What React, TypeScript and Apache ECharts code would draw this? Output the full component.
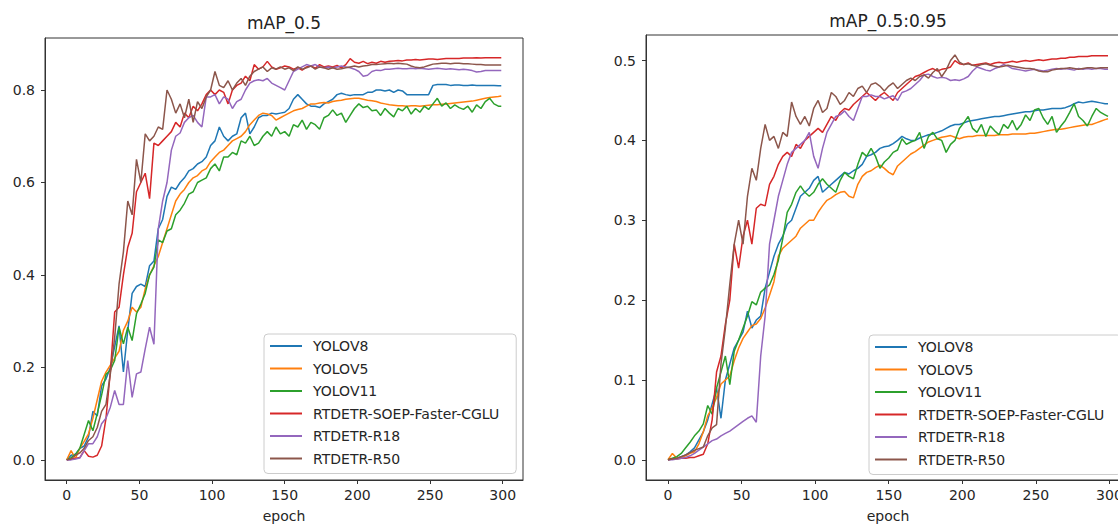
import React, { useEffect, useRef } from "react";
import * as echarts from "echarts";

const FONT = "'DejaVu Sans', sans-serif";

const SERIES_NAMES = ["YOLOV8", "YOLOV5", "YOLOV11", "RTDETR-SOEP-Faster-CGLU", "RTDETR-R18", "RTDETR-R50"];
const COLORS = ["#1f77b4", "#ff7f0e", "#2ca02c", "#d62728", "#9467bd", "#8c564b"];

const TITLES = ["mAP_0.5", "mAP_0.5:0.95"];
const X_NAME = "epoch";
const X_TICKS = [0, 50, 100, 150, 200, 250, 300];
const Y_TICKS_A = [0, 0.2, 0.4, 0.6, 0.8];
const Y_TICKS_B = [0, 0.1, 0.2, 0.3, 0.4, 0.5];

const EPOCHS = [
  0, 3, 6, 9, 12, 15, 18, 21, 24, 27,
  30, 33, 36, 39, 42, 45, 48, 51, 54, 57,
  60, 63, 66, 69, 72, 75, 78, 81, 84, 87,
  90, 93, 96, 99, 102, 105, 108, 111, 114, 117,
  120, 123, 126, 129, 132, 135, 138, 141, 144, 147,
  150, 153, 156, 159, 162, 165, 168, 171, 174, 177,
  180, 183, 186, 189, 192, 195, 198, 201, 204, 207,
  210, 213, 216, 219, 222, 225, 228, 231, 234, 237,
  240, 243, 246, 249, 252, 255, 258, 261, 264, 267,
  270, 273, 276, 279, 282, 285, 288, 291, 294, 297,
  299,
];

// ---- mAP_0.5 ----
const A_YOLOV8 = [
  0, .01, .012, .025, .03, .05, .105, .095, .16, .175,
  .2, .245, .29, .19, .28, .36, .375, .38, .375, .42,
  .43, .5, .52, .57, .59, .585, .6, .61, .625, .63,
  .64, .645, .655, .68, .69, .72, .7, .69, .7, .705,
  .74, .75, .705, .72, .74, .745, .745, .75, .748, .75,
  .752, .76, .78, .79, .78, .77, .765, .765, .762, .77,
  .775, .78, .79, .793, .79, .788, .79, .79, .79, .795,
  .795, .8, .8, .798, .8, .795, .8, .798, .79, .79,
  .79, .79, .79, .79, .81, .812, .812, .812, .81, .811,
  .811, .81, .81, .811, .81, .81, .81, .81, .81, .809,
  .809,
];
const A_YOLOV5 = [
  0, .02, .003, .025, .04, .056, .09, .13, .17, .19,
  .205, .22, .235, .28, .3, .33, .32, .33, .37, .4,
  .42, .44, .47, .5, .53, .56, .575, .585, .6, .61,
  .615, .625, .63, .645, .655, .665, .67, .68, .69, .695,
  .7, .71, .725, .735, .745, .75, .748, .745, .735, .74,
  .745, .75, .755, .758, .76, .765, .77, .77, .772, .773,
  .772, .775, .777, .778, .78, .781, .782, .782, .78, .778,
  .777, .775, .772, .77, .768, .767, .766, .766, .765, .766,
  .766, .765, .766, .767, .768, .768, .769, .77, .771, .772,
  .773, .774, .775, .776, .778, .78, .782, .784, .785, .786,
  .787,
];
const A_YOLOV11 = [
  0, .005, .012, .025, .055, .085, .063, .1, .14, .185,
  .194, .215, .287, .251, .287, .258, .316, .337, .36, .4,
  .417, .476, .47, .495, .5, .53, .54, .555, .575, .58,
  .6, .605, .61, .63, .64, .625, .655, .655, .665, .66,
  .69, .685, .7, .68, .685, .7, .71, .7, .72, .705,
  .71, .7, .725, .72, .735, .715, .73, .725, .715, .74,
  .745, .757, .745, .75, .73, .745, .76, .77, .762, .765,
  .755, .757, .745, .76, .75, .742, .76, .755, .765, .748,
  .76, .752, .765, .758, .77, .782, .765, .772, .76, .768,
  .762, .758, .765, .752, .768, .76, .775, .782, .77, .765,
  .765,
];
const A_SOEP = [
  0, .002, .003, .005, .02, .008, .006, .01, .03, .09,
  .19, .32, .33, .4, .46, .49, .58, .6, .62, .565,
  .685, .68, .69, .7, .71, .73, .72, .75, .74, .765,
  .755, .77, .79, .8, .79, .8, .795, .77, .8, .81,
  .815, .83, .82, .855, .845, .85, .862, .85, .845, .848,
  .852, .85, .845, .848, .843, .85, .852, .847, .855, .85,
  .852, .85, .853, .848, .855, .868, .86, .858, .862, .857,
  .86, .858, .862, .86, .862, .863, .864, .863, .865, .865,
  .866, .865, .866, .867, .867, .866, .867, .868, .868, .868,
  .868, .869, .869, .869, .87, .869, .87, .87, .87, .87,
  .87,
];
const A_R18 = [
  0, 0, .002, .004, .02, .035, .035, .05, .078, .09,
  .114, .15, .12, .12, .215, .135, .186, .19, .24, .287,
  .25, .5, .56, .6, .67, .7, .707, .73, .74, .745,
  .73, .72, .785, .785, .79, .77, .785, .78, .76, .775,
  .78, .8, .815, .82, .822, .82, .825, .815, .81, .805,
  .8, .82, .84, .845, .85, .855, .852, .855, .85, .848,
  .85, .848, .85, .852, .85, .848, .845, .84, .83, .832,
  .84, .843, .842, .845, .845, .846, .847, .846, .846, .847,
  .846, .847, .846, .845, .846, .847, .846, .845, .846, .845,
  .844, .845, .844, .842, .839, .84, .842, .842, .842, .842,
  .842,
];
const A_R50 = [
  0, .002, .01, .015, .025, .042, .05, .07, .105, .12,
  .186, .265, .38, .45, .56, .53, .65, .6, .705, .69,
  .7, .72, .715, .8, .78, .75, .77, .74, .78, .73,
  .775, .76, .785, .8, .84, .81, .805, .82, .8, .815,
  .825, .81, .83, .84, .845, .85, .84, .848, .845, .85,
  .845, .848, .842, .85, .845, .848, .852, .845, .85, .848,
  .845, .848, .845, .846, .848, .85, .852, .85, .852, .853,
  .855, .855, .856, .857, .858, .857, .858, .857, .856, .852,
  .849, .848, .85, .853, .856, .857, .858, .858, .857, .858,
  .858, .857, .857, .856, .855, .855, .854, .854, .854, .854,
  .854,
];

// ---- mAP_0.5:0.95 ----
const B_YOLOV8 = [
  0, .001, .002, .004, .006, .01, .015, .025, .035, .05,
  .07, .09, .052, .1, .12, .14, .15, .16, .186, .165,
  .175, .18, .215, .235, .255, .27, .28, .295, .3, .315,
  .33, .335, .34, .35, .355, .335, .34, .345, .35, .355,
  .36, .358, .362, .365, .37, .38, .382, .385, .39, .392,
  .393, .396, .4, .405, .402, .4, .4, .403, .405, .407,
  .408, .41, .412, .415, .418, .42, .42, .422, .424, .425,
  .426, .427, .428, .429, .43, .43, .431, .432, .433, .434,
  .435, .436, .436, .437, .438, .438, .439, .44, .44, .44,
  .441, .443, .446, .448, .447, .448, .449, .448, .447, .446,
  .446,
];
const B_YOLOV5 = [
  0, .008, .002, .003, .005, .008, .01, .02, .035, .055,
  .065, .078, .095, .1, .105, .124, .14, .152, .16, .168,
  .17, .177, .19, .206, .223, .255, .265, .27, .275, .28,
  .29, .295, .3, .3, .31, .318, .325, .328, .332, .335,
  .336, .33, .328, .345, .355, .36, .362, .366, .369, .365,
  .36, .357, .368, .373, .378, .383, .386, .39, .394, .398,
  .4, .402, .404, .405, .406, .404, .402, .404, .405, .405,
  .406, .406, .406, .406, .406, .407, .407, .407, .408, .408,
  .408, .408, .409, .409, .41, .411, .412, .413, .414, .414,
  .415, .416, .417, .418, .419, .42, .42, .422, .424, .426,
  .427,
];
const B_YOLOV11 = [
  0, .002, .004, .008, .015, .022, .03, .036, .045, .068,
  .057, .09, .11, .13, .094, .136, .15, .165, .18, .198,
  .194, .21, .215, .219, .232, .25, .277, .31, .32, .335,
  .343, .335, .33, .335, .345, .352, .345, .34, .335, .35,
  .36, .355, .352, .37, .385, .38, .39, .38, .365, .373,
  .378, .385, .388, .402, .395, .398, .4, .41, .39, .405,
  .41, .402, .4, .385, .395, .4, .415, .422, .43, .415,
  .41, .42, .405, .418, .412, .407, .42, .415, .425, .413,
  .42, .432, .425, .438, .44, .428, .42, .43, .41, .418,
  .425, .435, .446, .43, .425, .418, .43, .44, .435, .432,
  .43,
];
const B_SOEP = [
  0, .001, .001, .002, .002, .003, .003, .005, .007, .02,
  .05, .11, .13, .17, .2, .27, .24, .28, .3, .27,
  .315, .32, .318, .345, .355, .37, .38, .385, .38, .395,
  .39, .4, .405, .41, .415, .41, .42, .43, .425, .435,
  .44, .438, .445, .45, .455, .46, .455, .45, .456, .46,
  .455, .45, .46, .465, .47, .475, .48, .482, .485, .488,
  .49, .487, .489, .49, .492, .5, .496, .495, .497, .494,
  .495, .496, .497, .495, .497, .498, .497, .498, .499, .498,
  .499, .5, .499, .5, .501, .5, .501, .502, .502, .503,
  .503, .504, .504, .505, .505, .505, .506, .506, .506, .506,
  .506,
];
const B_R18 = [
  0, 0, .001, .002, .003, .005, .008, .012, .016, .02,
  .024, .026, .03, .033, .036, .04, .044, .048, .052, .055,
  .047, .13, .18, .27, .3, .33, .35, .37, .385, .39,
  .395, .4, .41, .38, .365, .39, .41, .42, .43, .432,
  .437, .43, .425, .44, .455, .455, .457, .455, .455, .452,
  .454, .456, .45, .46, .462, .465, .47, .475, .482, .483,
  .48, .478, .479, .478, .475, .476, .475, .477, .48, .487,
  .492, .49, .488, .487, .49, .492, .495, .493, .49, .489,
  .488, .487, .488, .489, .488, .487, .488, .489, .49, .489,
  .49, .489, .488, .49, .489, .49, .489, .49, .49, .489,
  .489,
];
const B_R50 = [
  0, .001, .002, .004, .006, .009, .012, .014, .016, .03,
  .04, .044, .12, .165, .22, .27, .3, .27, .33, .365,
  .35, .39, .42, .4, .405, .39, .41, .405, .448, .43,
  .42, .43, .418, .44, .45, .435, .44, .46, .455, .445,
  .45, .46, .455, .465, .468, .46, .47, .472, .468, .462,
  .468, .472, .465, .47, .475, .478, .475, .48, .482, .478,
  .485, .49, .48, .488, .5, .507, .498, .495, .496, .494,
  .493, .495, .496, .494, .493, .492, .493, .494, .493, .492,
  .491, .49, .49, .489, .487, .486, .486, .488, .489, .49,
  .49, .491, .49, .489, .49, .491, .491, .49, .491, .491,
  .491,
];

const PANEL_A = [A_YOLOV8, A_YOLOV5, A_YOLOV11, A_SOEP, A_R18, A_R50];
const PANEL_B = [B_YOLOV8, B_YOLOV5, B_YOLOV11, B_SOEP, B_R18, B_R50];

const TEXT_COLOR = "#262626";
const SPINE = "#333333";

function xAxisFor(gridIndex: number) {
  return {
    type: "value",
    gridIndex,
    min: -14.95,
    max: 313.95,
    splitLine: { show: false },
    axisLine: { show: true, onZero: false, lineStyle: { color: SPINE, width: 1 } },
    axisTick: { show: true, customValues: X_TICKS, length: 4, lineStyle: { color: SPINE, width: 1 } },
    axisLabel: { customValues: X_TICKS, margin: 8, fontSize: 14, color: TEXT_COLOR, fontFamily: FONT },
    name: X_NAME,
    nameLocation: "middle",
    nameGap: 29,
    nameTextStyle: { fontSize: 14, color: TEXT_COLOR, fontFamily: FONT },
  };
}

function yAxisFor(gridIndex: number, min: number, max: number, ticks: number[]) {
  return {
    type: "value",
    gridIndex,
    min,
    max,
    splitLine: { show: false },
    axisLine: { show: true, onZero: false, lineStyle: { color: SPINE, width: 1 } },
    axisTick: { show: true, customValues: ticks, length: 4, lineStyle: { color: SPINE, width: 1 } },
    axisLabel: {
      customValues: ticks,
      margin: 10,
      fontSize: 14,
      color: TEXT_COLOR,
      fontFamily: FONT,
      formatter: (v: number) => v.toFixed(1),
    },
  };
}

function legendFor(left: number, top: number) {
  return {
    data: SERIES_NAMES,
    orient: "vertical",
    left,
    top,
    padding: [4, 17, 7, 6],
    icon: "rect",
    itemWidth: 32,
    itemHeight: 2,
    itemGap: 6.5,
    selectedMode: false,
    backgroundColor: "rgba(255,255,255,0.8)",
    borderColor: "#cccccc",
    borderWidth: 1,
    borderRadius: 4,
    textStyle: { fontSize: 14, color: TEXT_COLOR, fontFamily: FONT, lineHeight: 16, padding: [0, 0, 0, 6] },
  };
}

export default function App() {
  const ref = useRef<HTMLDivElement>(null);

  useEffect(() => {
    if (!ref.current) return;
    const chart = echarts.init(ref.current, undefined, { renderer: "svg" });

    const series: any[] = [];
    [PANEL_A, PANEL_B].forEach((panel, p) => {
      panel.forEach((vals, i) => {
        series.push({
          type: "line",
          name: SERIES_NAMES[i],
          xAxisIndex: p,
          yAxisIndex: p,
          data: EPOCHS.map((e, k) => [e, vals[k]]),
          symbol: "none",
          showSymbol: false,
          color: COLORS[i],
          lineStyle: { width: 1.5, color: COLORS[i] },
          itemStyle: { color: COLORS[i] },
          emphasis: { disabled: true },
          silent: true,
        });
      });
    });

    chart.setOption({
      animation: false,
      backgroundColor: "#ffffff",
      grid: [
        { left: 45, top: 38, width: 478, height: 442, show: true, borderColor: SPINE, borderWidth: 1, backgroundColor: "#ffffff" },
        { left: 646, top: 35, width: 484, height: 448, show: true, borderColor: SPINE, borderWidth: 1, backgroundColor: "#ffffff" },
      ],
      xAxis: [xAxisFor(0), xAxisFor(1)],
      yAxis: [
        yAxisFor(0, -0.0435, 0.9125, Y_TICKS_A),
        yAxisFor(1, -0.0253, 0.532, Y_TICKS_B),
      ],
      legend: [legendFor(264, 334), legendFor(869, 335)],
      graphic: [
        {
          type: "text",
          x: 284,
          y: 23,
          style: {
            text: TITLES[0],
            align: "center",
            verticalAlign: "middle",
            textAlign: "center",
            textVerticalAlign: "middle",
            fontSize: 17,
            fontFamily: FONT,
            fill: "#222222",
          },
        },
        {
          type: "text",
          x: 888,
          y: 21,
          style: {
            text: TITLES[1],
            align: "center",
            verticalAlign: "middle",
            textAlign: "center",
            textVerticalAlign: "middle",
            fontSize: 17,
            fontFamily: FONT,
            fill: "#222222",
          },
        },
      ],
      series,
    });

    return () => chart.dispose();
  }, []);

  return (
    <div style={{ position: "absolute", left: 0, top: 0, width: 1118, height: 528, overflow: "hidden" }}>
      <div ref={ref} style={{ width: 1150, height: 528 }} />
    </div>
  );
}
